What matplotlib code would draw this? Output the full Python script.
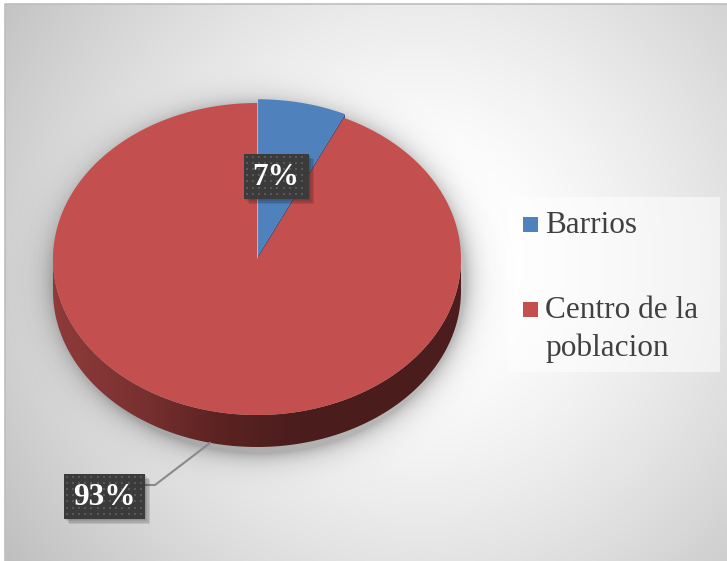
import numpy as np
import matplotlib
matplotlib.use("Agg")
import matplotlib.pyplot as plt
from matplotlib.patches import Polygon, Rectangle
from matplotlib.colors import LinearSegmentedColormap

# data
categories = ["Barrios", "Centro de la\npoblacion"]
values = [7, 93]
colors = ["#4F81BD", "#C3504E"]
side_colors = ["#2F5586", None]

W, H = 727, 561
fig = plt.figure(figsize=(W / 100, H / 100), dpi=100)
ax = fig.add_axes([0, 0, 1, 1])
ax.set_xlim(0, W)
ax.set_ylim(H, 0)
ax.axis("off")

# background: radial gray gradient
yy, xx = np.mgrid[0:H, 0:W]
r = np.hypot(xx - 420, yy - 260) / 483.0
g = 1 - 0.23 * np.clip((r - 0.15) / 0.85, 0, None) ** 1.3
g = np.clip(g, 0, 1)
bg = np.dstack([g, g, g])
ax.imshow(bg, extent=(0, W, H, 0), zorder=0, interpolation="bilinear")
ax.add_patch(Rectangle((0, 0), 5, H, fc="white", ec="none", zorder=1))
ax.add_patch(Rectangle((0, 0), W, 4, fc="white", ec="none", zorder=1))
ax.plot([5, 5, W], [H, 4, 4], color="#bdbdbd", lw=1.2, zorder=1)

# pie geometry (projected ellipse)
cx, cy, rx, ry, depth = 257, 259, 204, 156, 32

# soft shadow around the pie
sx = (xx - cx - 2) / (rx + 2)
sy = (yy - (cy + depth / 2 + 4)) / (ry + depth / 2 + 2)
d = (np.hypot(sx, sy) - 1) * 190
sh_alpha = np.where(d > 0, 0.26 * np.exp(-d / 11.0), 0.26)
shadow = np.zeros((H, W, 4))
shadow[..., 3] = sh_alpha
ax.imshow(shadow, extent=(0, W, H, 0), zorder=2, interpolation="bilinear")


def pt(t, ox=0.0, oy=0.0, dz=0.0):
    return (cx + ox + rx * np.cos(t), cy + oy - ry * np.sin(t) + dz)


fracs = np.array(values, dtype=float) / sum(values)
starts = np.pi / 2 - 2 * np.pi * np.concatenate([[0], np.cumsum(fracs)[:-1]])
ends = starts - 2 * np.pi * fracs
explode = [5, 0]

wedges = []
for i, (a0, a1) in enumerate(zip(starts, ends)):
    mid = (a0 + a1) / 2
    ox = explode[i] * np.cos(mid)
    oy = -explode[i] * np.sin(mid) * ry / rx
    wedges.append((a0, a1, ox, oy))

# outer side of the big slice (front half of the cylinder)
a0, a1, ox, oy = wedges[1]
t = np.linspace(np.pi, 2 * np.pi, 200)
top = np.array([pt(v, ox, oy) for v in t])
bot = np.array([pt(v, ox, oy, depth) for v in t[::-1]])
side = Polygon(np.vstack([top, bot]), closed=True, fc="none", ec="none", zorder=3)
ax.add_patch(side)
side_cmap = LinearSegmentedColormap.from_list(
    "side", ["#8E3B3A", "#7A3231", "#5C2322", "#4B1D1D", "#4A1C1C", "#4E1E1E"])
grad = np.linspace(0, 1, 256).reshape(1, -1)
im = ax.imshow(grad, cmap=side_cmap, aspect="auto", zorder=3,
               extent=(cx - rx, cx + rx, cy + depth + ry + 5, cy - 5))
im.set_clip_path(side)

# cut face of the small slice
a0, a1, ox, oy = wedges[0]
c0 = (cx + ox, cy + oy)
e0 = pt(a1, ox, oy)
face = [c0, e0, (e0[0], e0[1] + depth), (c0[0], c0[1] + depth)]
ax.add_patch(Polygon(face, closed=True, fc=side_colors[0], ec="none", zorder=4))

# top faces (small slice on top)
for i in [1, 0]:
    a0, a1, ox, oy = wedges[i]
    t = np.linspace(a0, a1, 200)
    arc = np.array([pt(v, ox, oy) for v in t])
    poly = np.vstack([[cx + ox, cy + oy], arc])
    ax.add_patch(Polygon(poly, closed=True, fc=colors[i], ec="none",
                         zorder=6 if i == 0 else 5))

# data labels
label_pos = [(276, 176), (104, 496)]
box_w = [65, 81]
box_h = 45
ax.plot([144, 155, 210], [485, 485, 443], color="#8a8a8a", lw=1.5, zorder=6)
for i, v in enumerate(values):
    x, y = label_pos[i]
    bw = box_w[i]
    for k, a in enumerate([0.07, 0.08, 0.10, 0.10]):
        o = 1.5 + k * 1.3
        ax.add_patch(Rectangle((x - bw / 2 + o, y - box_h / 2 + o), bw, box_h,
                               fc="black", ec="none", alpha=a, zorder=7))
    ax.add_patch(Rectangle((x - bw / 2, y - box_h / 2), bw, box_h,
                           fc="#3B3B3B", ec="none", zorder=8))
    gx, gy = np.meshgrid(np.arange(x - bw / 2 + 3, x + bw / 2 - 1, 6.2),
                         np.arange(y - box_h / 2 + 3, y + box_h / 2 - 1, 6.2))
    ax.scatter(gx.ravel(), gy.ravel(), s=1.6, marker="s", color="#585858",
               linewidths=0, zorder=9)
    ax.text(x, y + 1, f"{v}%", ha="center", va="center", color="white",
            fontsize=22.5, fontweight="bold", family="Liberation Serif", zorder=10)

# legend
ax.add_patch(Rectangle((508, 197), 212, 175, fc="white", ec="none", alpha=0.55, zorder=6))
leg_y = [233, 318]
for i, name in enumerate(categories):
    ax.add_patch(Rectangle((523, leg_y[i] - 16), 15, 15, fc=colors[i], ec="none", zorder=7))
    lines = name.split("\n")
    for j, line in enumerate(lines):
        ax.text(545, leg_y[i] + 38 * j, line, ha="left", va="baseline",
                color="#404040", fontsize=22.5, family="Liberation Serif", zorder=7)

fig.savefig("out.png", dpi=100)
